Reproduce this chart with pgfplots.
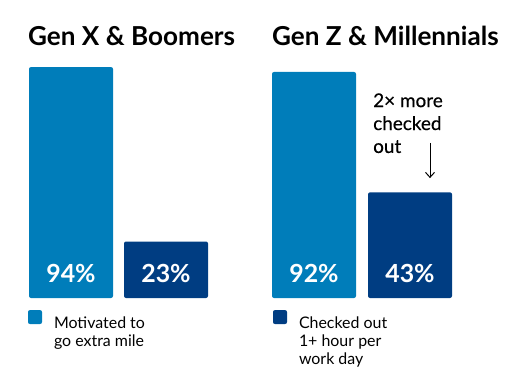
\documentclass[border=0pt]{standalone}
\usepackage{pgfplots}
\pgfplotsset{compat=1.18}
\usetikzlibrary{arrows.meta}
\usepackage{fontspec}
\setmainfont{Lato}
\newfontfamily\medfont[FakeBold=0.4]{Lato}
\definecolor{lblue}{HTML}{007DBA}
\definecolor{dblue}{HTML}{003D82}
\begin{document}
\begin{tikzpicture}
\begin{axis}[
  width=521bp, height=384bp, scale only axis,
  xmin=0, xmax=521, ymin=-35, ymax=121.3,
  hide axis, clip=false,
  legend columns=2,
  legend style={at={(axis cs:28,-4.9)}, anchor=north west, draw=none, fill=none,
    inner sep=0pt, outer sep=0pt,
    font=\fontsize{16}{18}\selectfont,
    nodes={inner sep=0pt},
    column sep=0pt,
    /tikz/every odd column/.append style={column sep=12bp}},
  legend cell align=left,
]
\addplot[ybar, bar width=84, bar shift=0pt, fill=lblue, draw=none, rounded corners=2bp,
  legend image code/.code={\fill[lblue] (0bp,-1bp) rectangle (14bp,13bp);}]
  coordinates {(71,94) (314,92)};
\addlegendentry{\parbox[t]{219bp}{Motivated to\\go extra mile}}
\addplot[ybar, bar width=84, bar shift=0pt, fill=dblue, draw=none, rounded corners=2bp,
  legend image code/.code={\fill[dblue] (0bp,-1bp) rectangle (14bp,13bp);}]
  coordinates {(166,23) (410,43)};
\addlegendentry{\parbox[t]{120bp}{Checked out\\1+ hour per\\work day}}

\node[anchor=base west, inner sep=0pt, font=\fontsize{26.2}{30}\selectfont\bfseries] at (axis cs:28,102.6) {Gen X \& Boomers};
\node[anchor=base west, inner sep=0pt, font=\fontsize{26.2}{30}\selectfont\bfseries] at (axis cs:272,102.6) {Gen Z \& Millennials};

\node[anchor=base, inner sep=0pt, text=white, font=\fontsize{25}{28}\selectfont\bfseries] at (axis cs:71,6.5) {94\%};
\node[anchor=base, inner sep=0pt, text=white, font=\fontsize{25}{28}\selectfont\bfseries] at (axis cs:166,6.5) {23\%};
\node[anchor=base, inner sep=0pt, text=white, font=\fontsize{25}{28}\selectfont\bfseries] at (axis cs:314,6.5) {92\%};
\node[anchor=base, inner sep=0pt, text=white, font=\fontsize{25}{28}\selectfont\bfseries] at (axis cs:410,6.5) {43\%};

\node[anchor=base west, inner sep=0pt, font=\medfont\fontsize{19}{23}\selectfont] at (axis cs:373,77.7) {\parbox[t]{100bp}{\raggedright 2× more\\checked\\out}};
\draw[-{Straight Barb[length=5bp,width=9bp]}, line width=1bp] (axis cs:430,63.1) -- (axis cs:430,48.8);
\end{axis}
\pgfresetboundingbox
\useasboundingbox (current axis.south west) rectangle (current axis.north east);
\end{tikzpicture}
\end{document}
